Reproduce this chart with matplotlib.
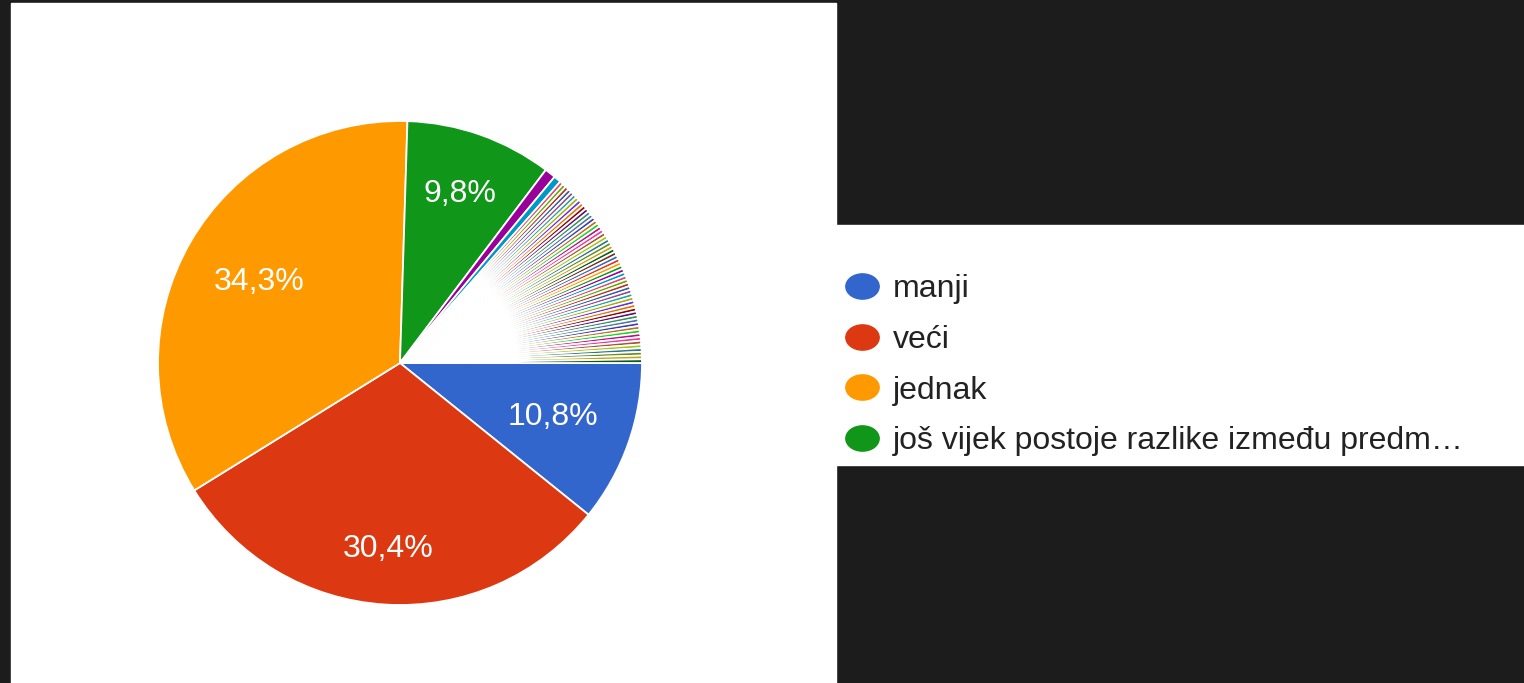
import matplotlib.pyplot as plt
import numpy as np
from matplotlib.lines import Line2D
from matplotlib.patches import Rectangle
from matplotlib.path import Path
from matplotlib.transforms import Affine2D

# survey answers (408 replies in total)
LEGEND_LABELS = ["manji", "veći", "jednak", "još vijek postoje razlike između predm…"]
MAIN_COUNTS = [44, 124, 140, 40]
# free-text "other" answers, most of them given only once
OTHER_COUNTS = [
    3, 2,
    1, 1, 1, 1, 1, 1, 1, 1, 1, 1, 1, 1, 1, 1, 1, 1, 1, 1, 1, 1,
    1, 1, 1, 1, 1, 1, 1, 1, 1, 1, 1, 1, 1, 1, 1, 1, 1, 1, 1, 1,
    1, 1, 1, 1, 1, 1, 1, 1, 1, 1, 1, 1, 1, 1, 1,
]

GOOGLE_COLORS = [
    "#3366cc", "#dc3912", "#ff9900", "#109618", "#990099", "#0099c6",
    "#dd4477", "#66aa00", "#b82e2e", "#316395", "#994499", "#22aa99",
    "#aaaa11", "#6633cc", "#e67300", "#8b0707", "#651067", "#329262",
    "#5574a6", "#3b3eac", "#b77322", "#16d620", "#b91383", "#f4359e",
    "#9c5935", "#a9c413", "#2a778d", "#668d1c", "#bea413", "#0c5922",
    "#743411",
]
LABEL_RADII = [0.67, 0.77, 0.67, 0.74]

W, H = 1524, 683
plt.rcParams["font.family"] = ["Liberation Sans", "DejaVu Sans"]

fig = plt.figure(figsize=(W / 100, H / 100), dpi=100)
fig.patch.set_facecolor("#1c1c1c")

# white card behind the pie and white strip behind the legend
fig.add_artist(Rectangle((11 / W, 0), 825 / W, 680 / H,
                         transform=fig.transFigure, color="white", zorder=0))
fig.add_artist(Rectangle((836 / W, 1 - 465 / H), (W - 836) / W, 240 / H,
                         transform=fig.transFigure, color="white", zorder=0))

cx, cy, r = 400, 363, 242
ax = fig.add_axes([(cx - r) / W, (H - cy - r) / H, 2 * r / W, 2 * r / H])

counts = MAIN_COUNTS + OTHER_COUNTS
colors = [GOOGLE_COLORS[i % len(GOOGLE_COLORS)] for i in range(len(counts))]


def fmt_pct(pct):
    if pct < 5:
        return ""
    return f"{pct:.1f}".replace(".", ",") + "%"


wedges, texts, autotexts = ax.pie(
    counts,
    colors=colors,
    startangle=0,
    counterclock=False,
    autopct=fmt_pct,
    wedgeprops=dict(edgecolor="white", linewidth=1.3),
    textprops=dict(color="white", fontsize=23),
)
ax.set_xlim(-1, 1)
ax.set_ylim(-1, 1)

for wedge, txt, rad in zip(wedges, autotexts, LABEL_RADII):
    mid = np.deg2rad((wedge.theta1 + wedge.theta2) / 2)
    txt.set_position((rad * np.cos(mid), rad * np.sin(mid)))

# legend drawn by hand, Google Forms style
ellipse = Path.unit_circle().transformed(Affine2D().scale(1.32, 1.0))
for i, (label, color) in enumerate(zip(LEGEND_LABELS, GOOGLE_COLORS)):
    y = 1 - (286 + 50.5 * i) / H
    fig.add_artist(Line2D([862 / W], [y], marker=ellipse, markersize=24,
                          color=color, linestyle="none",
                          transform=fig.transFigure))
    fig.text(893 / W, y, label, fontsize=23, color="#222222",
             va="center_baseline", ha="left")

fig.savefig("out.png", dpi=100, facecolor=fig.get_facecolor())
